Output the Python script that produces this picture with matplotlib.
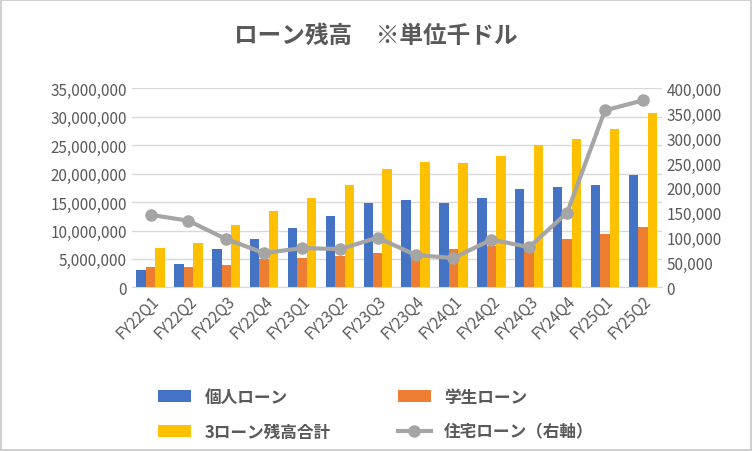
import matplotlib
matplotlib.use("Agg")
import matplotlib.pyplot as plt
import numpy as np
from matplotlib.ticker import FuncFormatter

plt.rcParams['font.family'] = ['Noto Sans CJK JP', 'DejaVu Sans']

quarters = ["FY22Q1", "FY22Q2", "FY22Q3", "FY22Q4", "FY23Q1", "FY23Q2", "FY23Q3",
            "FY23Q4", "FY24Q1", "FY24Q2", "FY24Q3", "FY24Q4", "FY25Q1", "FY25Q2"]
personal = [3.0e6, 4.1e6, 6.8e6, 8.5e6, 10.5e6, 12.6e6, 14.8e6, 15.3e6, 14.9e6, 15.8e6, 17.3e6, 17.6e6, 18.0e6, 19.7e6]
student = [3.6e6, 3.6e6, 3.9e6, 5.0e6, 5.2e6, 5.5e6, 6.0e6, 5.6e6, 6.8e6, 7.3e6, 7.7e6, 8.5e6, 9.4e6, 10.7e6]
total = [6.9e6, 7.8e6, 10.9e6, 13.5e6, 15.8e6, 18.1e6, 20.8e6, 22.1e6, 21.9e6, 23.1e6, 25.1e6, 26.2e6, 27.9e6, 30.6e6]
housing = [146000, 134000, 97000, 69000, 79000, 77000, 100000, 65000, 59000, 96000, 81000, 150000, 356000, 376000]

fig = plt.figure(figsize=(7.52, 4.52), dpi=100)
fig.patch.set_edgecolor("#d0d0d0")
fig.patch.set_linewidth(1.5)
ax = fig.add_axes([0.175, 0.362, 0.705, 0.44])
ax2 = ax.twinx()

x = np.arange(len(quarters))
w = 0.25
b1 = ax.bar(x - w, personal, w, color="#4472C4", label="個人ローン")
b2 = ax.bar(x, student, w, color="#ED7D31", label="学生ローン")
b3 = ax.bar(x + w, total, w, color="#FFC000", label="3ローン残高合計")
ln, = ax2.plot(x, housing, color="#A5A5A5", lw=3, marker="o", ms=8, label="住宅ローン（右軸）")

ax.set_ylim(0, 35e6)
ax.set_yticks(np.arange(0, 35e6 + 1, 5e6))
ax2.set_ylim(0, 400000)
ax2.set_yticks(np.arange(0, 400001, 50000))
fmt = FuncFormatter(lambda v, p: f"{int(v):,}")
ax.yaxis.set_major_formatter(fmt)
ax2.yaxis.set_major_formatter(fmt)
ax.set_xlim(-0.5, len(quarters) - 0.5)
ax.set_xticks(x)
ax.set_xticklabels(quarters, rotation=45, ha="right", rotation_mode="anchor")
ax.grid(axis="y", color="#d9d9d9", lw=1)
ax.set_axisbelow(True)
for a in (ax, ax2):
    for s in a.spines.values():
        s.set_visible(False)
    a.tick_params(length=0, labelsize=11, colors="#595959")
ax.spines["bottom"].set_visible(True)
ax.spines["bottom"].set_color("#d9d9d9")

fig.text(0.5, 0.905, "ローン残高　※単位千ドル", ha="center", fontsize=17,
         fontweight="bold", color="#595959")

# column-wise fill: order so rows read 個人/学生, 3ローン/住宅
handles = [b1, b3, b2, ln]
fig.legend(handles, [h.get_label() for h in handles], ncol=2, loc="lower center",
           bbox_to_anchor=(0.5, -0.01), frameon=False,
           prop={"weight": "bold", "size": 12}, columnspacing=4,
           labelspacing=1.0, labelcolor="#595959")

fig.savefig("out.png", dpi=100)
